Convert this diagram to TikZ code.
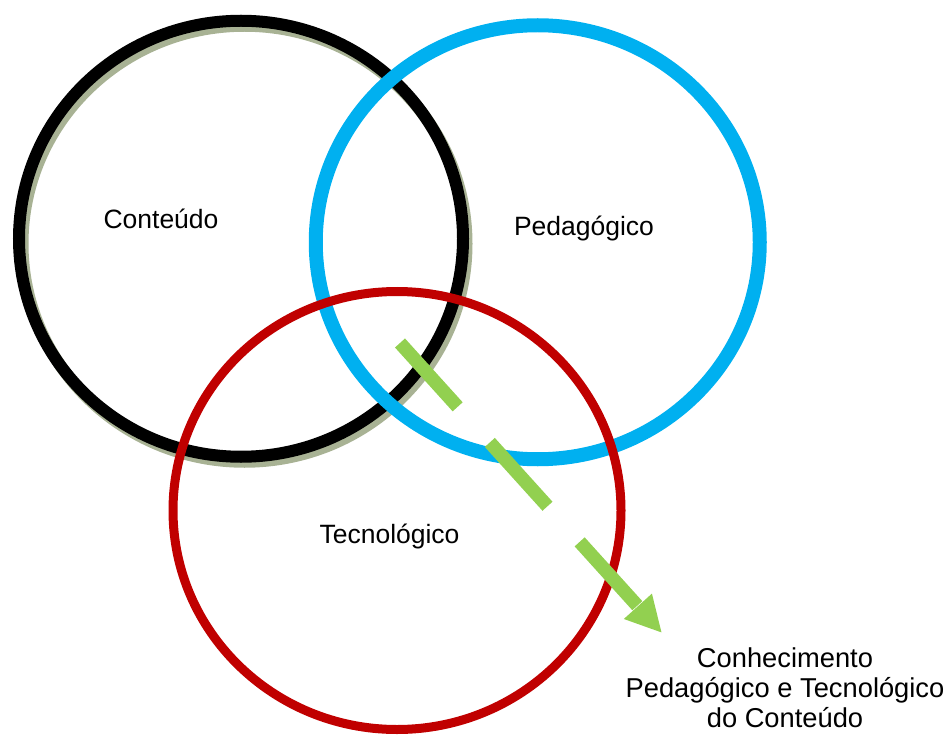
\documentclass[tikz,border=0pt]{standalone}
\usepackage{fontspec}
\setmainfont{Liberation Sans}
\usetikzlibrary{shapes.geometric,arrows.meta}
\definecolor{cblue}{HTML}{00B0F0}
\definecolor{cred}{HTML}{C00000}
\definecolor{cgreen}{HTML}{92D050}
\definecolor{cshadow}{HTML}{A8B294}
\begin{document}
\begin{tikzpicture}[x=1pt,y=-1pt,
  ring/.style={ellipse,draw,inner sep=0pt,fill=none},
  lbl/.style={inner sep=0pt,anchor=base,font=\fontsize{26.5}{30}\selectfont},
  ]
\useasboundingbox (0,0) rectangle (947,735);
\node[ring,draw=cshadow,line width=12pt,minimum width=444pt,minimum height=436pt] (contsh) at (244.5,243.75) {};
\node[ring,draw=black,line width=12pt,minimum width=444pt,minimum height=436pt] (cont) at (241,238.75) {};
\node[ring,draw=cblue,line width=14pt,minimum width=444pt,minimum height=434pt] (ped) at (537.75,242.25) {};
\node[ring,draw=cred,line width=9pt,minimum width=448pt,minimum height=438pt] (tec) at (397,510.5) {};
\node[lbl] (tcont) at (161,229) {Conteúdo};
\node[lbl] (tped) at (584,236) {Pedagógico};
\node[lbl] (ttec) at (389.5,543) {Tecnológico};
\node[lbl,align=center,font=\fontsize{27.3}{30}\selectfont] (tall) at (785,727) {Conhecimento\\Pedagógico e Tecnológico\\do Conteúdo};
\coordinate (gs) at (400,343);
\coordinate (ge) at (662,633);
\draw[cgreen,line width=13.5pt,dash pattern=on 86pt off 48pt,-{Triangle[length=36pt,width=35pt]}] (gs) -- (ge);
\end{tikzpicture}
\end{document}
